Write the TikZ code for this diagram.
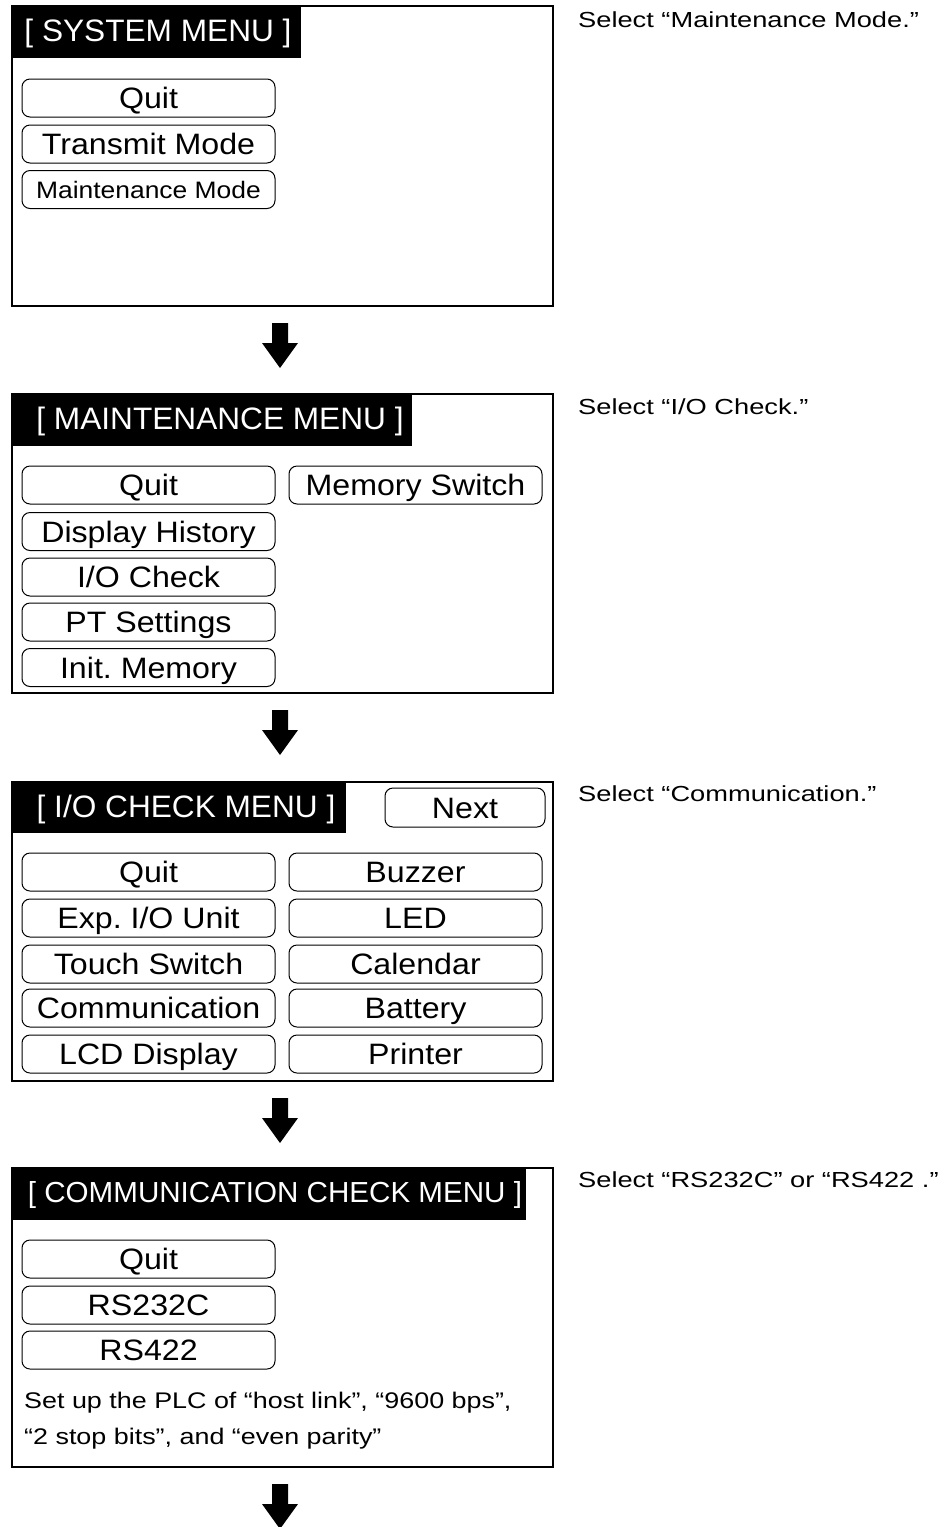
\documentclass[tikz,border=0pt]{standalone}
\usepackage{fontspec}
\setmainfont{Liberation Sans}
\newfontfamily\btnfont[FakeStretch=1.09]{Liberation Sans}
\newfontfamily\smbtnfont[FakeStretch=1.11]{Liberation Sans}
\newfontfamily\notefont[FakeStretch=1.25]{Liberation Sans}
\newfontfamily\bodyfont[FakeStretch=1.19]{Liberation Sans}
\newfontfamily\hdrfont[FakeStretch=1.02]{Liberation Sans}
\frenchspacing
\begin{document}
\begin{tikzpicture}[x=1pt,y=-1pt,
  panel/.style={draw,line width=1.4pt},
  hdr/.style={fill=black},
  hdrtxt/.style={text=white,anchor=base,inner sep=0pt,font=\hdrfont\fontsize{31}{36}\selectfont},
  btn/.style={draw,rounded corners=8pt,line width=1pt,minimum width=253pt,minimum height=38pt,inner sep=0pt,text height=21pt,text depth=0pt,font=\btnfont\fontsize{29.5}{34}\selectfont},
  sbtn/.style={btn,text height=17pt,font=\smbtnfont\fontsize{23.8}{28}\selectfont},
  note/.style={anchor=base west,inner sep=0pt,font=\notefont\fontsize{21.8}{26}\selectfont},
  body/.style={anchor=base west,inner sep=0pt,font=\bodyfont\fontsize{22.6}{36}\selectfont},
  downarrow/.style={fill=black}
]
\useasboundingbox (0,0) rectangle (945,1527);
% ---------- Panel 1
\draw[panel] (12,6) rectangle (553,306);
\fill[hdr] (12,6) rectangle (301,58);
\node[hdrtxt] (h1) at (158,41.3) {[ SYSTEM MENU ]};
\node[btn] (p1a) at (148.5,98) {Quit};
\node[btn] (p1b) at (148.5,144) {Transmit Mode};
\node[sbtn] (p1c) at (148.5,189.5) {Maintenance Mode};
\node[note] (n1) at (578,27) {Select “Maintenance Mode.”};
\coordinate (a1) at (280,323);
\fill[downarrow] (a1) ++(-8,0) -- ++(16,0) -- ++(0,20) -- ++(10,0) -- ++(-18,25) -- ++(-18,-25) -- ++(10,0) -- cycle;
% ---------- Panel 2
\draw[panel] (12,394) rectangle (553,693);
\fill[hdr] (12,394) rectangle (412,446);
\node[hdrtxt] (h2) at (220,429.3) {[ MAINTENANCE MENU ]};
\node[btn] (p2a) at (148.5,485) {Quit};
\node[btn] (p2b) at (148.5,531.5) {Display History};
\node[btn] (p2c) at (148.5,577) {I/O Check};
\node[btn] (p2d) at (148.5,622) {PT Settings};
\node[btn] (p2e) at (148.5,667.5) {Init. Memory};
\node[btn] (p2f) at (415.5,485) {Memory Switch};
\node[note] (n2) at (578,414) {Select “I/O Check.”};
\coordinate (a2) at (280,710);
\fill[downarrow] (a2) ++(-8,0) -- ++(16,0) -- ++(0,20) -- ++(10,0) -- ++(-18,25) -- ++(-18,-25) -- ++(10,0) -- cycle;
% ---------- Panel 3
\draw[panel] (12,782) rectangle (553,1081);
\fill[hdr] (12,782) rectangle (346,833);
\node[hdrtxt] (h3) at (186,817.3) {[ I/O CHECK MENU ]};
\node[btn,minimum width=160pt,minimum height=39pt] (p3n) at (465,807.5) {Next};
\node[btn] (p3a) at (148.5,872) {Quit};
\node[btn] (p3b) at (148.5,918) {Exp. I/O Unit};
\node[btn] (p3c) at (148.5,964) {Touch Switch};
\node[btn] (p3d) at (148.5,1008) {Communication};
\node[btn] (p3e) at (148.5,1054) {LCD Display};
\node[btn] (p3f) at (415.5,872) {Buzzer};
\node[btn] (p3g) at (415.5,918) {LED};
\node[btn] (p3h) at (415.5,964) {Calendar};
\node[btn] (p3i) at (415.5,1008) {Battery};
\node[btn] (p3j) at (415.5,1054) {Printer};
\node[note] (n3) at (578,801) {Select “Communication.”};
\coordinate (a3) at (280,1098);
\fill[downarrow] (a3) ++(-8,0) -- ++(16,0) -- ++(0,20) -- ++(10,0) -- ++(-18,25) -- ++(-18,-25) -- ++(10,0) -- cycle;
% ---------- Panel 4
\draw[panel] (12,1168) rectangle (553,1467);
\fill[hdr] (12,1168) rectangle (526,1220);
\node[hdrtxt,font=\hdrfont\fontsize{29}{34}\selectfont] (h4) at (275,1202.7) {[ COMMUNICATION CHECK MENU ]};
\node[btn] (p4a) at (148.5,1259) {Quit};
\node[btn] (p4b) at (148.5,1305) {RS232C};
\node[btn] (p4c) at (148.5,1350) {RS422};
\node[body] (t4a) at (24,1408) {Set up the PLC of “host link”, “9600 bps”,};
\node[body] (t4b) at (24,1444) {“2 stop bits”, and “even parity”};
\node[note] (n4) at (578,1187) {Select “RS232C” or “RS422 .”};
\coordinate (a4) at (280,1484);
\fill[downarrow] (a4) ++(-8,0) -- ++(16,0) -- ++(0,20) -- ++(10,0) -- ++(-18,25) -- ++(-18,-25) -- ++(10,0) -- cycle;
\end{tikzpicture}
\end{document}
